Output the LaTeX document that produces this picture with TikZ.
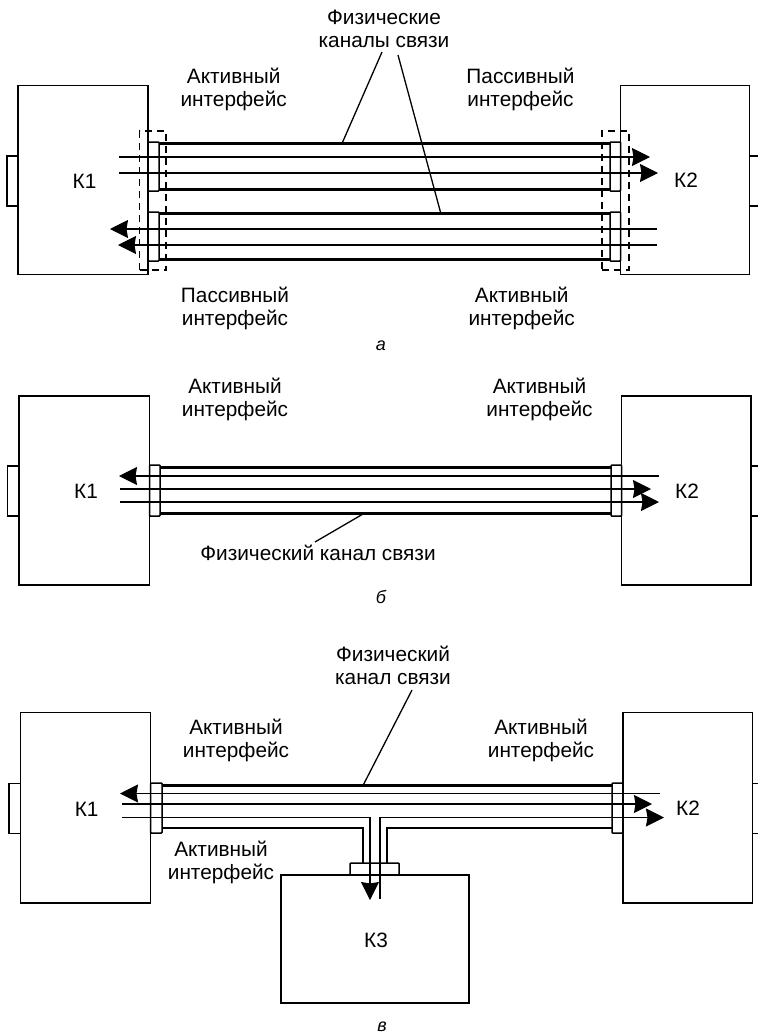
\documentclass[tikz,border=0pt]{standalone}
\usepackage{fontspec}
\setmainfont{Liberation Sans}
\usetikzlibrary{arrows.meta}
\tikzset{
  x=1pt,y=-1pt,
  boxstyle/.style={draw=black,line width=1.4pt,inner sep=0pt,outer sep=0pt},
  plugstyle/.style={draw=black,line width=1.5pt,rounded corners=0.8pt,inner sep=0pt,outer sep=0pt},
  dashstyle/.style={draw=black,line width=1.4pt,dash pattern=on 7pt off 5pt,inner sep=0pt,outer sep=0pt},
  thinwire/.style={line width=1.3pt,draw=black},
  thickwire/.style={line width=2.4pt,draw=black},
  leader/.style={line width=1.3pt,draw=black},
  headtip/.style={-{Stealth[length=18pt,width=18pt,inset=1.5pt]}},
  lab/.style={align=center,inner sep=0pt,font=\fontsize{20.8}{23}\selectfont},
  figcap/.style={inner sep=0pt,font=\fontsize{18}{20}\selectfont\itshape},
}
\newcommand\bx[6]{\node[#1,minimum width={(#5-#3)*1pt},minimum height={(#6-#4)*1pt}] (#2) at ({(#3+#5)/2},{(#4+#6)/2}) {};}
\newcommand\wire[5]{\coordinate (#2s) at (#3,#5); \coordinate (#2e) at (#4,#5); \draw[#1] (#2s) -- (#2e);}
\newcommand\pipe[3]{\draw[thickwire] ([yshift=-#3]#1.north east) -- ([yshift=-#3]#2.north west); \draw[thickwire] ([yshift=#3]#1.south east) -- ([yshift=#3]#2.south west);}
\begin{document}
\begin{tikzpicture}
\useasboundingbox (0,0) rectangle (758,1034);
% ---------- a
\bx{boxstyle}{aK1}{18}{85.5}{148}{274.5}
\bx{boxstyle}{aK2}{620.5}{85.5}{749.5}{274.5}
\bx{boxstyle}{aT1}{7}{156}{18}{206}
\coordinate (aT2a) at (758,156); \coordinate (aT2b) at (758,206);
\draw[boxstyle] (aT2a) -- (aT2a -| aK2.east);
\draw[boxstyle] (aT2b) -- (aT2b -| aK2.east);
\bx{plugstyle}{aP1}{148}{142}{159}{191}
\bx{plugstyle}{aP2}{148}{212}{159}{261}
\bx{plugstyle}{aP3}{610}{142}{620.5}{191}
\bx{plugstyle}{aP4}{610}{212}{620.5}{261}
\pipe{aP1}{aP3}{1.5pt}
\pipe{aP2}{aP4}{1.5pt}
\wire{thinwire,headtip}{aw1}{119}{650}{157}
\wire{thinwire,headtip}{aw2}{119}{658}{173}
\wire{thinwire,headtip}{aw3}{657}{110}{229}
\wire{thinwire,headtip}{aw4}{657}{118}{245}
\bx{dashstyle}{aD1}{139.5}{131}{166}{270}
\bx{dashstyle}{aD2}{602}{131}{629}{270}
\node[lab] (aK1t) at (84.5,181) {К1};
\node[lab] (aK2t) at (686,180) {К2};
\node[lab] (aC) at (384,28.5) {Физические\\каналы связи};
\coordinate (aL1) at (382,52); \coordinate (aL1e) at (342,143.5);
\coordinate (aL2) at (398,55); \coordinate (aL2e) at (441,214);
\draw[leader] (aL1) -- (aL1e);
\draw[leader] (aL2) -- (aL2e);
\node[lab] (a1) at (233.7,89.5) {Активный\\интерфейс};
\node[lab] (a2) at (520.5,89.5) {Пассивный\\интерфейс};
\node[lab] (a3) at (235,308.5) {Пассивный\\интерфейс};
\node[lab] (a4) at (521.7,308.5) {Активный\\интерфейс};
\node[figcap] (acap) at (381,346) {а};
% ---------- b
\bx{boxstyle}{bK1}{19}{396}{149.5}{585}
\bx{boxstyle}{bK2}{621.7}{396}{751}{585}
\bx{boxstyle}{bT1}{7.3}{466}{19}{516}
\coordinate (bT2a) at (758,466); \coordinate (bT2b) at (758,516);
\draw[boxstyle] (bT2a) -- (bT2a -| bK2.east);
\draw[boxstyle] (bT2b) -- (bT2b -| bK2.east);
\bx{plugstyle}{bP1}{149.5}{465}{160}{516}
\bx{plugstyle}{bP2}{611}{465}{621.7}{516}
\pipe{bP1}{bP2}{2.5pt}
\wire{thinwire,headtip}{bw1}{659}{119}{476}
\wire{thinwire,headtip}{bw2}{120}{651}{489}
\wire{thinwire,headtip}{bw3}{120}{659}{502}
\node[lab] (bK1t) at (86,491) {К1};
\node[lab] (bK2t) at (687,491) {К2};
\coordinate (bL) at (315,542); \coordinate (bLe) at (363,514);
\draw[leader] (bL) -- (bLe);
\node[lab] (b1) at (235,399.5) {Активный\\интерфейс};
\node[lab] (b2) at (539.5,399.5) {Активный\\интерфейс};
\node[lab] (b3) at (318,553) {Физический канал связи};
\node[figcap] (bcap) at (381,597) {б};
% ---------- c
\bx{boxstyle}{cK1}{20.5}{712.5}{150.5}{903}
\bx{boxstyle}{cK2}{623}{712.5}{752.5}{903}
\bx{boxstyle}{cT1}{9}{783.5}{20.5}{833.5}
\coordinate (cT2a) at (758,783.5); \coordinate (cT2b) at (758,833.5);
\draw[boxstyle] (cT2a) -- (cT2a -| cK2.east);
\draw[boxstyle] (cT2b) -- (cT2b -| cK2.east);
\bx{plugstyle}{cP1}{150.5}{783}{162}{833}
\bx{plugstyle}{cP2}{612}{783}{623}{833}
\bx{boxstyle}{cK3}{281}{875}{469}{1003}
\bx{plugstyle}{cP3}{350}{863}{399}{875}
\draw[thickwire] ([yshift=-2.5pt]cP1.north east) -- ([yshift=-2.5pt]cP2.north west);
\coordinate (cJ1) at (363,828); \coordinate (cJ2) at (387,828);
\draw[thickwire] (cP1.east |- cJ1) -- (cJ1) -- (cJ1 |- cP3.north);
\draw[thickwire] (cP2.west |- cJ2) -- (cJ2) -- (cJ2 |- cP3.north);
\wire{thinwire,headtip}{cw1}{660}{120}{793.5}
\wire{thinwire,headtip}{cw2}{122}{652}{804}
\coordinate (cw3s) at (122,817.5); \coordinate (cw3m) at (370,817.5); \coordinate (cw3e) at (370,900);
\draw[thinwire,headtip] (cw3s) -- (cw3m) -- (cw3e);
\coordinate (cw4s) at (380,899); \coordinate (cw4m) at (380,817.5); \coordinate (cw4e) at (664,817.5);
\draw[thinwire,headtip] (cw4s) -- (cw4m) -- (cw4e);
\node[lab] (cK1t) at (86.7,809) {К1};
\node[lab] (cK2t) at (688,808) {К2};
\node[lab] (cK3t) at (376,940) {К3};
\coordinate (cL) at (412,690); \coordinate (cLe) at (363,785.5);
\draw[leader] (cL) -- (cLe);
\node[lab] (cC) at (393,665.5) {Физический\\канал связи};
\node[lab] (c1) at (236,740.5) {Активный\\интерфейс};
\node[lab] (c2) at (541,740.5) {Активный\\интерфейс};
\node[lab] (c3) at (221,862.5) {Активный\\интерфейс};
\node[figcap] (ccap) at (382,1027) {в};
\end{tikzpicture}
\end{document}
